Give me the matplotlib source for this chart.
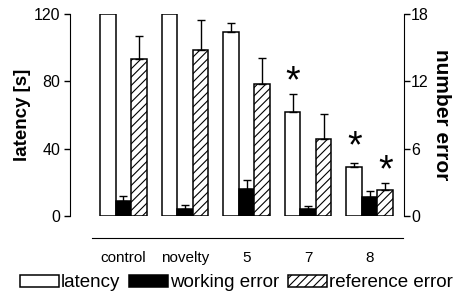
import numpy as np
import matplotlib
matplotlib.use("Agg")
import matplotlib.pyplot as plt

plt.rcParams["font.family"] = "Liberation Sans"
plt.rcParams["hatch.linewidth"] = 0.8

groups = ["control", "novelty", "5", "7", "8"]

latency = [120, 120, 109.5, 62.0, 29.3]  # s
latency_err = [0, 0, 5.0, 10.5, 2.4]
working_error = [1.3, 0.6, 2.4, 0.6, 1.7]  # number of errors
working_error_err = [0.45, 0.35, 0.8, 0.25, 0.55]
reference_error = [14.0, 14.8, 11.8, 6.85, 2.3]
reference_error_err = [2.0, 2.7, 2.3, 2.2, 0.6]

# significance marks: (group index, series, y in that series' units)
stars = [(3, "latency", 79.5), (4, "latency", 41.0), (4, "reference", 3.95)]

x = np.arange(len(groups))
w = 0.252

fig = plt.figure(figsize=(4.53, 2.98), dpi=100)
ax = fig.add_axes([70 / 453, 1 - 216 / 298, (404 - 70) / 453, 202 / 298])
ax2 = ax.twinx()

bar_kw = dict(width=w, edgecolor="black", linewidth=1.1)
err_kw = dict(fmt="none", ecolor="black", elinewidth=1.0, capsize=3, capthick=1.0)


def upper_err(axis, xs, vals, errs):
    xs, vals, errs = np.asarray(xs), np.asarray(vals), np.asarray(errs)
    m = errs > 0
    axis.errorbar(xs[m], vals[m], yerr=[np.zeros(m.sum()), errs[m]], **err_kw)


b1 = ax.bar(x - w, latency, color="white", **bar_kw)
upper_err(ax, x - w, latency, latency_err)
b2 = ax2.bar(x, working_error, color="black", **bar_kw)
upper_err(ax2, x, working_error, working_error_err)
b3 = ax2.bar(x + w, reference_error, color="white", hatch="////", **bar_kw)
upper_err(ax2, x + w, reference_error, reference_error_err)

for gi, series, yv in stars:
    if series == "latency":
        ax.text(gi - w, yv, "*", ha="center", va="center", fontsize=27)
    else:
        ax2.text(gi + w, yv, "*", ha="center", va="center", fontsize=27)

ax.set_xlim(-0.869, 4.557)
ax.set_ylim(0, 120)
ax2.set_ylim(0, 18)
ax.set_yticks([0, 40, 80, 120])
ax2.set_yticks([0, 6, 12, 18])

ax.set_xticks(x)
ax.set_xticklabels(groups)
ax.tick_params(axis="x", length=0, pad=9, labelsize=11)
ax.tick_params(axis="y", direction="out", length=4, width=1, pad=3, labelsize=11.5)
ax2.tick_params(axis="y", direction="out", length=4, width=1, pad=1, labelsize=11.5)

for a in (ax, ax2):
    a.spines["top"].set_visible(False)
ax.spines["right"].set_visible(False)
ax2.spines["left"].set_visible(False)
ax2.spines["bottom"].set_visible(False)
ax.spines["bottom"].set_position(("outward", 16))
ax.spines["bottom"].set_bounds(-0.51, 4.54)

ax.set_ylabel("latency [s]", fontsize=13.5, fontweight="bold", labelpad=2)
ax2.set_ylabel("number error", fontsize=15, fontweight="bold", rotation=-90, labelpad=16)

fig.legend([b1, b2, b3], ["latency", "working error", "reference error"],
           loc="lower center", bbox_to_anchor=(0.522, -0.015), ncol=3, frameon=False,
           fontsize=13.5, handlelength=2.1, handleheight=0.6, handletextpad=0.1,
           columnspacing=0.45, borderaxespad=0.2)

fig.savefig("out.png", dpi=100)
